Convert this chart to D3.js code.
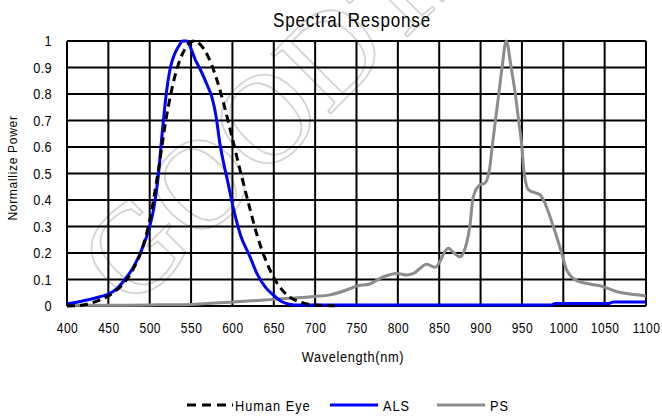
<!DOCTYPE html>
<html>
<head>
<meta charset="utf-8">
<script src="https://cdn.jsdelivr.net/npm/d3@7"></script>
<style>
  body { margin: 0; background: #fff; }
  text { font-family: "Liberation Sans", Arial, sans-serif; fill: #000; }
</style>
</head>
<body>
<div class="chart"></div>
<script>
var svgWidth = 662;
var svgHeight = 418;

var margin = { top: 41, right: 16, bottom: 112, left: 67 };
var width = svgWidth - margin.left - margin.right;
var height = svgHeight - margin.top - margin.bottom;

// data
var xTicks = [400, 450, 500, 550, 600, 650, 700, 750, 800, 850, 900, 950, 1000, 1050, 1100];
var yTicks = [0, 0.1, 0.2, 0.3, 0.4, 0.5, 0.6, 0.7, 0.8, 0.9, 1];

var eyeNm  = [400, 410, 420, 430, 440, 450, 460, 470, 480, 490, 500, 510, 520, 530, 540, 550, 555, 560, 570, 580, 590, 600, 610, 620, 630, 640, 650, 660, 670, 680, 690, 700, 710, 720, 730];
var eyeVal = [0.0004, 0.0012, 0.004, 0.0116, 0.023, 0.038, 0.06, 0.091, 0.139, 0.208, 0.323, 0.503, 0.71, 0.862, 0.954, 0.997, 1.0, 0.99, 0.945, 0.865, 0.757, 0.631, 0.503, 0.381, 0.265, 0.175, 0.107, 0.061, 0.032, 0.017, 0.008, 0.004, 0.002, 0.001, 0.0005];

var alsNm  = [400, 420, 440, 450, 460, 470, 480, 490, 500, 505, 510, 515, 520, 525, 530, 535, 540, 545, 550, 555, 560, 570, 575, 580, 585, 590, 595, 600, 605, 610, 620, 630, 640, 650, 660, 670, 680, 750, 850, 950, 985, 990, 1055, 1060, 1100];
var alsVal = [0.008, 0.02, 0.035, 0.045, 0.065, 0.1, 0.145, 0.21, 0.3, 0.37, 0.48, 0.65, 0.8, 0.9, 0.95, 0.98, 1.0, 1.0, 0.97, 0.93, 0.9, 0.83, 0.79, 0.72, 0.61, 0.53, 0.46, 0.385, 0.32, 0.265, 0.195, 0.12, 0.07, 0.04, 0.016, 0.006, 0.004, 0.004, 0.004, 0.004, 0.004, 0.009, 0.009, 0.015, 0.015];

var psNm  = [400, 450, 500, 550, 600, 650, 670, 700, 718, 742, 750, 766, 782, 799, 811, 819, 835, 845, 861, 868, 875, 883, 887, 891, 899, 905, 911, 914, 918, 922, 926, 931, 937, 942, 946, 950, 952, 958, 972, 976, 988, 998, 1004, 1016, 1032, 1048, 1065, 1081, 1100];
var psVal = [0.003, 0.003, 0.004, 0.006, 0.015, 0.025, 0.029, 0.036, 0.042, 0.065, 0.075, 0.083, 0.11, 0.123, 0.117, 0.123, 0.158, 0.146, 0.218, 0.2, 0.186, 0.236, 0.3, 0.41, 0.457, 0.463, 0.52, 0.6, 0.7, 0.8, 0.9, 1.0, 0.9, 0.8, 0.7, 0.6, 0.52, 0.438, 0.419, 0.4, 0.3, 0.2, 0.136, 0.096, 0.083, 0.073, 0.054, 0.045, 0.038];

var series = [
  { name: "Human Eye", nm: eyeNm, val: eyeVal, color: "#000", dash: "8,5" },
  { name: "ALS", nm: alsNm, val: alsVal, color: "#0000ff", dash: null },
  { name: "PS", nm: psNm, val: psVal, color: "#8c8c8c", dash: null }
];

var svg = d3.select(".chart")
  .append("svg")
  .attr("width", svgWidth)
  .attr("height", svgHeight);

// the reference type is tall and narrow, so squeeze text sideways
function narrowText(parent, px, py, sx, size, spacing, anchor, str) {
  return parent.append("text")
    .attr("transform", `translate(${px}, ${py}) scale(${sx}, 1)`)
    .attr("text-anchor", anchor)
    .style("font-size", size + "px")
    .style("letter-spacing", spacing + "px")
    .text(str);
}

// faint watermark behind the grid
svg.append("text")
  .attr("transform", "translate(132,312) rotate(-45)")
  .style("font-family", "'Liberation Serif', 'DejaVu Serif', serif")
  .style("font-size", "128px")
  .style("fill", "none")
  .style("stroke", "#d4d4d4")
  .style("stroke-width", 1.8)
  .text("GOODTAL");

var chartGroup = svg.append("g")
  .attr("transform", `translate(${margin.left}, ${margin.top})`);

var x = d3.scaleLinear().domain([400, 1100]).range([0, width]);
var y = d3.scaleLinear().domain([0, 1]).range([height, 0]);

// grid
chartGroup.append("g")
  .selectAll("line")
  .data(xTicks)
  .enter()
  .append("line")
  .attr("x1", d => x(d)).attr("x2", d => x(d))
  .attr("y1", 0).attr("y2", height)
  .attr("stroke", "#000").attr("stroke-width", 2);

chartGroup.append("g")
  .selectAll("line")
  .data(yTicks)
  .enter()
  .append("line")
  .attr("x1", 0).attr("x2", width)
  .attr("y1", d => y(d)).attr("y2", d => y(d))
  .attr("stroke", "#000").attr("stroke-width", 2);

// axes (labels only)
var bottomAxis = d3.axisBottom(x).tickValues(xTicks).tickSize(0).tickPadding(16).tickFormat(d3.format("d"));
var leftAxis = d3.axisLeft(y).tickValues(yTicks).tickSize(0).tickPadding(15).tickFormat(d => d === 0 || d === 1 ? d : d3.format(".1f")(d));

chartGroup.append("g")
  .attr("transform", `translate(0, ${height})`)
  .call(bottomAxis)
  .call(g => g.select(".domain").remove())
  .selectAll("text")
  .attr("transform", "scale(0.8, 1)")
  .style("font-size", "15px")
  .style("letter-spacing", "0.6px");

chartGroup.append("g")
  .call(leftAxis)
  .call(g => g.select(".domain").remove())
  .selectAll("text")
  .attr("x", -15 / 0.85)
  .attr("transform", "scale(0.85, 1)")
  .style("font-size", "15px")
  .style("letter-spacing", "0.4px");

// lines
var line = d3.line()
  .x(d => x(d[0]))
  .y(d => y(d[1]))
  .curve(d3.curveMonotoneX);

var drawOrder = [series[2], series[1], series[0]];
chartGroup.selectAll(".series")
  .data(drawOrder)
  .enter()
  .append("path")
  .attr("class", "series")
  .attr("d", s => line(s.nm.map((n, i) => [n, s.val[i]])))
  .attr("fill", "none")
  .attr("stroke", s => s.color)
  .attr("stroke-width", 3)
  .attr("stroke-dasharray", s => s.dash);

// title and axis titles
narrowText(svg, 352, 27, 0.85, 20, 1, "middle", "Spectral Response");

svg.append("text")
  .attr("transform", "translate(17, 168) rotate(-90)")
  .attr("text-anchor", "middle")
  .style("font-size", "12px")
  .style("letter-spacing", "0.7px")
  .text("Normallize Power");

narrowText(svg, 353, 362, 0.85, 15, 0.8, "middle", "Wavelength(nm)");

// legend
var legendX = [187, 330, 437];
var legend = svg.selectAll(".legend")
  .data(series)
  .enter()
  .append("g")
  .attr("class", "legend")
  .attr("transform", (s, i) => `translate(${legendX[i]}, 405)`);

legend.append("line")
  .attr("x1", 0).attr("x2", (s, i) => i === 0 ? 46 : 48)
  .attr("y1", 0).attr("y2", 0)
  .attr("stroke", s => s.color)
  .attr("stroke-width", 3)
  .attr("stroke-dasharray", s => s.dash ? "9,6" : null);

legend.each(function (s, i) {
  narrowText(d3.select(this), i === 0 ? 48 : 53, 5.5, 0.85, 15, 1.2, "start", s.name);
});
</script>
</body>
</html>
